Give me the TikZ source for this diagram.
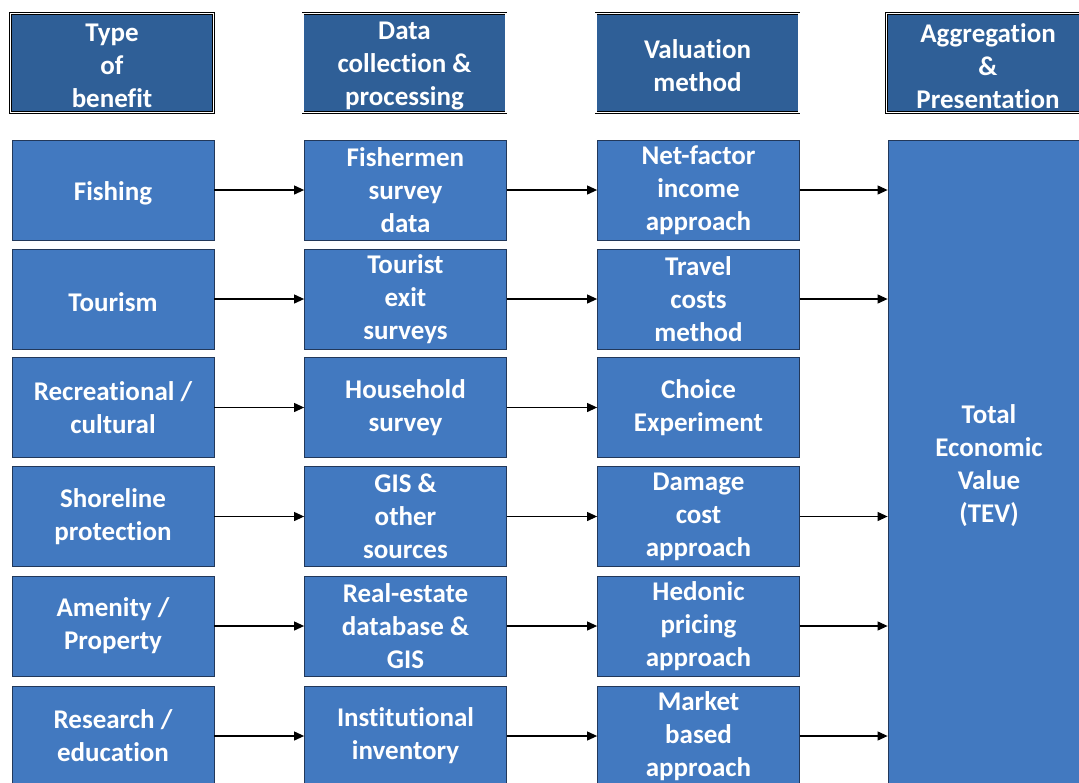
\documentclass[tikz,border=0pt]{standalone}
\usepackage{fontspec}
\setmainfont[Ligatures=NoCommon]{Carlito}
\usetikzlibrary{arrows.meta}
\definecolor{boxblue}{HTML}{4279C0}
\definecolor{headblue}{HTML}{2F5F97}
\definecolor{boxline}{HTML}{22385A}
\tikzset{
    txt/.style={text=white, align=center, inner sep=0pt, font=\bfseries\fontsize{27}{33}\selectfont},
    head/.style={draw=black, double=white, double distance=1.1pt, line width=0.9pt, fill=headblue,
        minimum width=203pt, minimum height=99pt, label={[txt, yshift=-3pt]center:#1}},
    item/.style={txt, execute at begin node={\rule{0pt}{26pt}},
        draw=boxline, line width=0.8pt, fill=boxblue, minimum width=202pt, minimum height=100pt},
    arr/.style={line width=1.1pt, -{Triangle[length=10pt,width=9pt]}}
}
\begin{document}
\begin{tikzpicture}[x=1pt,y=-1pt]
    \useasboundingbox (0,0) rectangle (1079,782);
    \node[head={Type\\of\\benefit}](typehead) at (112,63) {};
    \node[head={Data\\collection \&\\processing}](datahead) at (404.5,63) {};
    \node[head={Valuation\\method}](valhead) at (697.5,63) {};
    \node[head={Aggregation\\\&\\Presentation}](agghead) at (988,63) {};

    \node[item](fishing) at (113,190) {Fishing};
    \node[item](tourism) at (113,299) {Tourism};
    \node[item](recreation) at (113,407.5) {Recreational /\\cultural};
    \node[item](shoreline) at (113,516.5) {Shoreline\\protection};
    \node[item](amenity) at (113,626) {Amenity /\\Property};
    \node[item](research) at (113,736) {Research /\\education};

    \node[item](fishdata) at (405.5,190) {Fishermen\\survey\\data};
    \node[item](tourdata) at (405.5,299) {Tourist\\exit\\surveys};
    \node[item](housedata) at (405.5,407.5) {Household\\survey};
    \node[item](gisdata) at (405.5,516.5) {GIS \&\\other\\sources};
    \node[item](estatedata) at (405.5,626) {Real-estate\\database \&\\GIS};
    \node[item](invdata) at (405.5,736) {Institutional\\inventory};

    \node[item](netfactor) at (698.5,190) {Net-factor\\income\\approach};
    \node[item](travelcost) at (698.5,299) {Travel\\costs\\method};
    \node[item](choice) at (698.5,407.5) {Choice\\Experiment};
    \node[item](damage) at (698.5,516.5) {Damage\\cost\\approach};
    \node[item](hedonic) at (698.5,626) {Hedonic\\pricing\\approach};
    \node[item](market) at (698.5,736) {Market\\based\\approach};

    \node[item, minimum height=646pt, label={[txt, yshift=-3pt]center:{Total\\Economic\\Value\\(TEV)}}](tev) at (989,463) {};

    \draw[arr] (fishing) -- (fishdata);
    \draw[arr] (tourism) -- (tourdata);
    \draw[arr] (recreation) -- (housedata);
    \draw[arr] (shoreline) -- (gisdata);
    \draw[arr] (amenity) -- (estatedata);
    \draw[arr] (research) -- (invdata);

    \draw[arr] (fishdata) -- (netfactor);
    \draw[arr] (tourdata) -- (travelcost);
    \draw[arr] (housedata) -- (choice);
    \draw[arr] (gisdata) -- (damage);
    \draw[arr] (estatedata) -- (hedonic);
    \draw[arr] (invdata) -- (market);

    \draw[arr] (netfactor.east) -- (netfactor.east -| tev.west);
    \draw[arr] (travelcost.east) -- (travelcost.east -| tev.west);
    \draw[arr] (damage.east) -- (damage.east -| tev.west);
    \draw[arr] (hedonic.east) -- (hedonic.east -| tev.west);
    \draw[arr] (market.east) -- (market.east -| tev.west);
\end{tikzpicture}
\end{document}
